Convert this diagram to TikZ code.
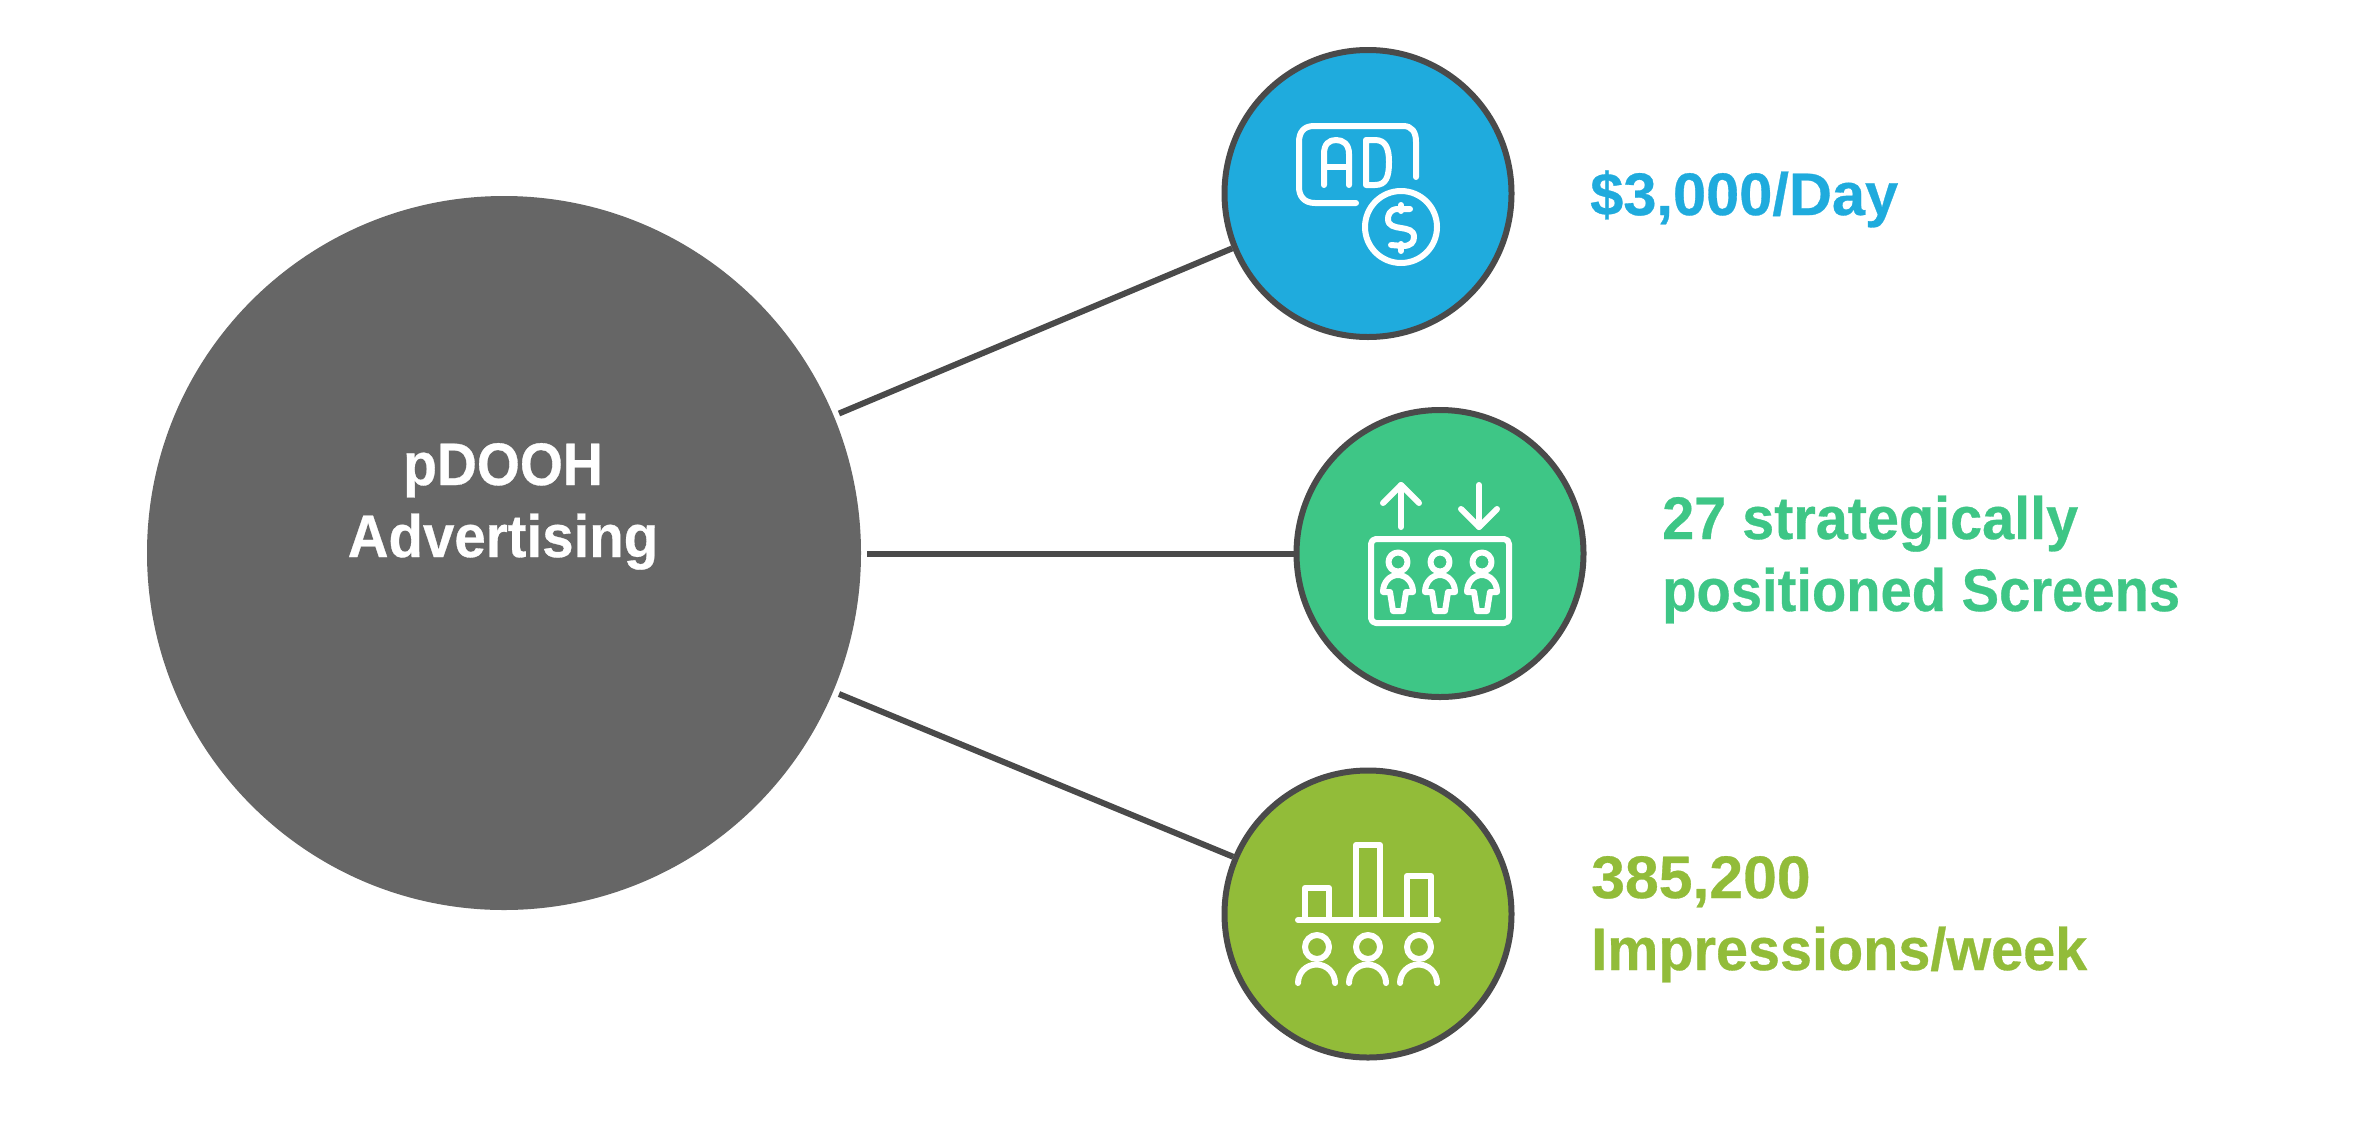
\documentclass[tikz,border=0pt]{standalone}
\usepackage{graphicx}
\usepackage{fontspec}
\setmainfont[FakeStretch=0.95,BoldFeatures={FakeBold=0.5}]{Liberation Sans}
\definecolor{hubgrey}{HTML}{666666}
\definecolor{edgegrey}{HTML}{4A4A4A}
\definecolor{blueA}{HTML}{1FABDD}
\definecolor{greenA}{HTML}{3EC686}
\definecolor{oliveA}{HTML}{92BC39}
\tikzset{
  x=1pt,y=-1pt,
  hub/.style={circle,fill=hubgrey,inner sep=0pt,minimum size=714pt},
  spoke/.style={circle,draw=edgegrey,line width=6pt,inner sep=0pt,minimum size=287pt},
  link/.style={draw=edgegrey,line width=6pt},
  icon/.style={draw=white,line width=6pt,line cap=round,line join=round},
  lab/.style={font=\fontsize{60}{72}\selectfont\bfseries,align=left,anchor=base west,inner sep=0pt},
}
\newcommand{\wide}[2]{\scalebox{#1}[1]{#2}}
\begin{document}
\begin{tikzpicture}
\useasboundingbox (0,0) rectangle (2376,1133);
\fill[white] (0,0) rectangle (2376,1133);
\node[hub] (h) at (504,553) {};
\node[spoke,fill=blueA] (a) at (1368,193.5) {};
\node[spoke,fill=greenA] (b) at (1440,553.5) {};
\node[spoke,fill=oliveA] (c) at (1368,914) {};
\coordinate (h1) at (839,413.5);
\coordinate (h2) at (867,553.5);
\coordinate (h3) at (839,694);
\draw[link] (h1) -- (a.202.5);
\draw[link] (h2) -- (b.west);
\draw[link] (h3) -- (c.157.5);
% labels
\node[font=\fontsize{60}{72}\selectfont\bfseries,text=white,align=center,inner sep=0pt,anchor=base] (ht) at (503,557) {\wide{0.97}{pDOOH}\\\wide{0.99}{Advertising}};
\node[lab,text=blueA] (ta) at (1590,215) {\wide{1.045}{\$3,000/Day}};
\node[lab,text=greenA] (tb) at (1662,611) {\wide{1.01}{27 strategically}\\\wide{0.985}{positioned Screens}};
\node[lab,text=oliveA] (tc) at (1591,970) {\wide{1.065}{385,200}\\\wide{1.01}{Impressions/week}};
% icon A
\begin{scope}[shift={(1200,30)}]
\draw[icon] (156,173) -- (115,173) .. controls (104,173) and (99,166) .. (99,157) -- (99,112) .. controls (99,102) and (104,96) .. (114,96) -- (203,96) .. controls (212,96) and (216,102) .. (216,112) -- (216,147);
\draw[icon] (124,155) -- (124,124) .. controls (124,114) and (129,110) .. (136,110) .. controls (143,110) and (149,114) .. (149,124) -- (149,155);
\draw[icon] (124,137) -- (149,137);
\draw[icon] (166,155) -- (166,110) -- (175,110) .. controls (186,110) and (189,119) .. (189,132) .. controls (189,147) and (186,155) .. (175,155) -- cycle;
\draw[icon] (201,197) circle[radius=36];
\draw[icon] (201,175) -- (201,181);
\draw[icon] (201,214) -- (201,221);
\draw[icon] (210,179) -- (198,179) .. controls (189,179) and (188,186) .. (188,189) .. controls (188,203) and (214,193) .. (214,207) .. controls (214,212) and (211,216) .. (203,216) -- (191,215);
\end{scope}
% icon B
\begin{scope}[shift={(1280,400)}]
\draw[icon,rounded corners=5pt] (91,139) rectangle (229,223);
\draw[icon] (121,127) -- (121,85);
\draw[icon] (103,103) -- (121,85) -- (139,103);
\draw[icon] (199,85) -- (199,127);
\draw[icon] (181,109) -- (199,127) -- (217,109);
\foreach \dx in {0,42,84}{
\begin{scope}[xshift=\dx pt]
\draw[icon] (118,162) circle[radius=9.5];
\draw[icon] (103,192) .. controls (103,182) and (110,175) .. (118,175) .. controls (126,175) and (133,182) .. (133,192) -- (126,192) -- (123,211) -- (113,211) -- (110,192) -- cycle;
\end{scope}}
\end{scope}
% icon C
\begin{scope}[shift={(1210,760)}]
\draw[icon] (88,160) -- (228,160);
\draw[icon] (95,160) -- (95,128) -- (119,128) -- (119,160);
\draw[icon] (146,160) -- (146,85) -- (170,85) -- (170,160);
\draw[icon] (197,160) -- (197,116) -- (221,116) -- (221,160);
\foreach \dx in {0,51,102}{
\begin{scope}[xshift=\dx pt]
\draw[icon] (107,187) circle[radius=12];
\draw[icon] (88,223) arc[start angle=180,end angle=360,radius=18.5];
\end{scope}}
\end{scope}
\end{tikzpicture}
\end{document}
